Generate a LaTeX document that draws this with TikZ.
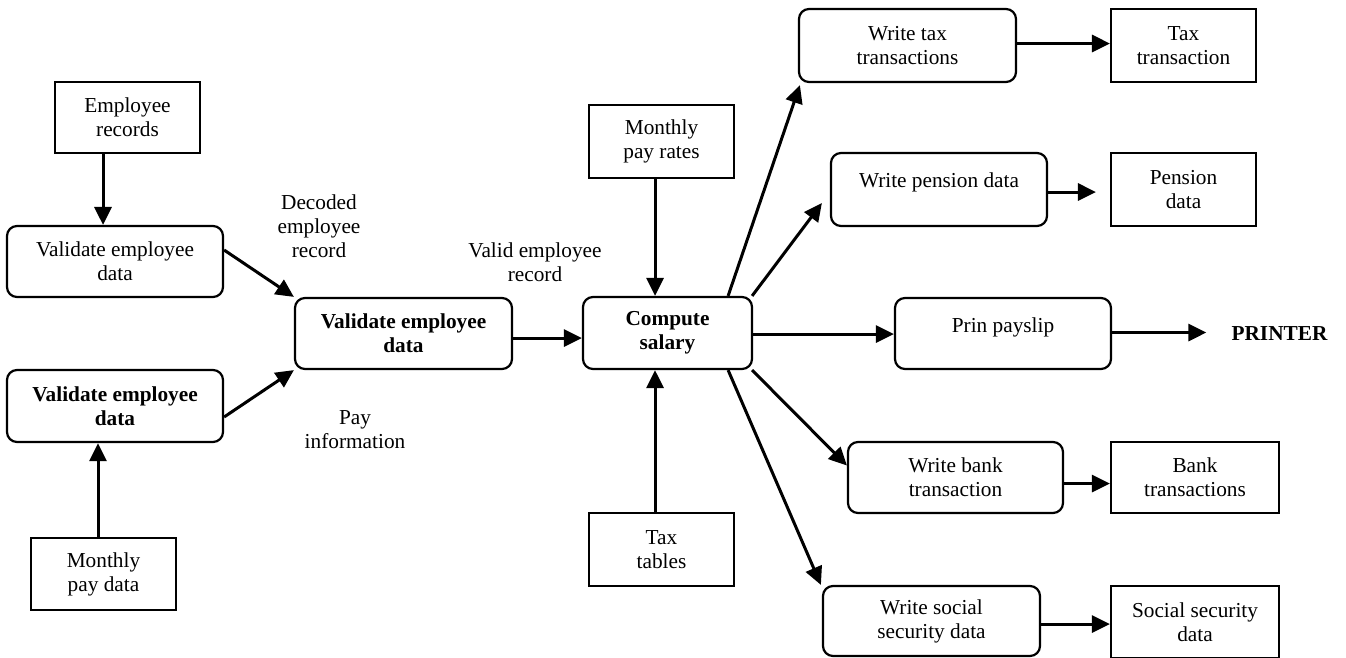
\documentclass[tikz,border=0pt]{standalone}
\usepackage{fontspec}
\setmainfont{Liberation Serif}
\usetikzlibrary{arrows.meta}
\begin{document}
\begin{tikzpicture}[x=1pt,y=-1pt,
  basebox/.style={draw, line width=2.2pt, align=center, inner sep=0pt,
    font=\fontsize{21.3}{24}\selectfont},
  dstore/.style={basebox},
  proc/.style={basebox, rounded corners=10pt},
  lbl/.style={align=center, inner sep=0pt, font=\fontsize{21.3}{24}\selectfont},
  arr/.style={line width=3pt, -{Triangle[length=18pt,width=17pt]}},
  sz/.style 2 args={minimum width=#1pt, minimum height=#2pt}
]
\useasboundingbox (0,0) rectangle (1346,657);

% left column
\node[dstore, sz={145}{71}] (er) at (127.5,117.5) {Employee\\records};
\node[proc, sz={216}{71}] (v1) at (115,261.5) {Validate employee\\data};
\node[proc, sz={216}{72}] (v3) at (115,406) {\bfseries Validate employee\\\bfseries data};
\node[dstore, sz={145}{72}] (mpd) at (103.5,574) {Monthly\\pay data};

% middle
\node[proc, sz={217}{71}] (v2) at (403.5,333.5) {\bfseries Validate employee\\\bfseries data};
\node[proc, sz={169}{72}] (cs) at (667.5,333) {\bfseries Compute\\\bfseries salary};
\node[dstore, sz={145}{73}] (mpr) at (661.5,141.5) {Monthly\\pay rates};
\node[dstore, sz={145}{73}] (tt) at (661.5,549.5) {Tax\\tables};

% labels
\node[lbl] (lbdec) at (319,226) {Decoded\\employee\\record};
\node[lbl] (lbval) at (535,262) {Valid employee\\record};
\node[lbl] (lbpay) at (355,430) {Pay\\information};

% right side
\node[proc, sz={217}{73}] (wtt) at (907.5,45.5) {Write tax\\transactions};
\node[dstore, sz={145}{73}] (txn) at (1183.5,45.5) {Tax\\transaction};
\node[proc, sz={216}{73}] (wpd) at (939,189.5) {Write pension data\\[-12pt]\strut};
\node[dstore, sz={145}{73}] (pd) at (1183.5,189.5) {Pension\\data};
\node[proc, sz={216}{71}] (pp) at (1003,333.5) {Prin payslip\\[-14pt]\strut};
\node[lbl, font=\fontsize{21.3}{24}\selectfont\bfseries] (printer) at (1279.5,334) {PRINTER};
\node[proc, sz={215}{71}] (wbt) at (955.5,477.5) {Write bank\\transaction};
\node[dstore, sz={168}{71}] (bt) at (1195,477.5) {Bank\\transactions};
\node[proc, sz={217}{70}] (wssd) at (931.5,621) {Write social\\security data};
\node[dstore, sz={168}{72}] (ssd) at (1195,622) {Social security\\data};

% connectors
\draw[arr] ([xshift=-24.5pt]er.south) -- ([xshift=-24.5pt]er.south |- v1.north);
\draw[arr] ([xshift=-5.5pt]mpd.north) -- ([xshift=-5.5pt]mpd.north |- v3.south);
\draw[arr] ([yshift=11.5pt]v1.east) -- (v2.north west);
\draw[arr] ([yshift=-11pt]v3.east) -- (v2.south west);
\draw[arr] ([yshift=-4.5pt]v2.east) -- ([yshift=-4.5pt]v2.east -| cs.west);
\draw[arr] ([xshift=-6.5pt]mpr.south) -- ([xshift=-6.5pt]mpr.south |- cs.north);
\draw[arr] ([xshift=-6.5pt]tt.north) -- ([xshift=-6.5pt]tt.north |- cs.south);

\draw[arr] ([xshift=-25pt]cs.north east) -- ([xshift=2pt,yshift=-2pt]wtt.south west);
\draw[arr] ([xshift=-1pt]cs.north east) -- ([xshift=-8pt,yshift=-13.5pt]wpd.west);
\draw[arr] ([yshift=-1pt]cs.east) -- ([yshift=-1pt]cs.east -| pp.west);
\draw[arr] ([xshift=-1pt]cs.south east) -- ([yshift=12pt]wbt.west);
\draw[arr] ([xshift=-25pt]cs.south east) -- ([xshift=-1pt]wssd.north west);

\draw[arr] ([yshift=2pt]wtt.east) -- ([yshift=2pt]wtt.east -| txn.west);
\draw[arr] ([yshift=-2.5pt]wpd.east) -- ([xshift=-14pt,yshift=-2.5pt]pd.west);
\draw[arr] ([yshift=1pt]pp.east) -- ([xshift=-25pt,yshift=1pt]printer.west |- pp.east);
\draw[arr] ([yshift=-6pt]wbt.east) -- ([yshift=-6pt]bt.west);
\draw[arr] ([yshift=-3pt]wssd.east) -- ([yshift=-3pt]wssd.east -| ssd.west);
\end{tikzpicture}
\end{document}
